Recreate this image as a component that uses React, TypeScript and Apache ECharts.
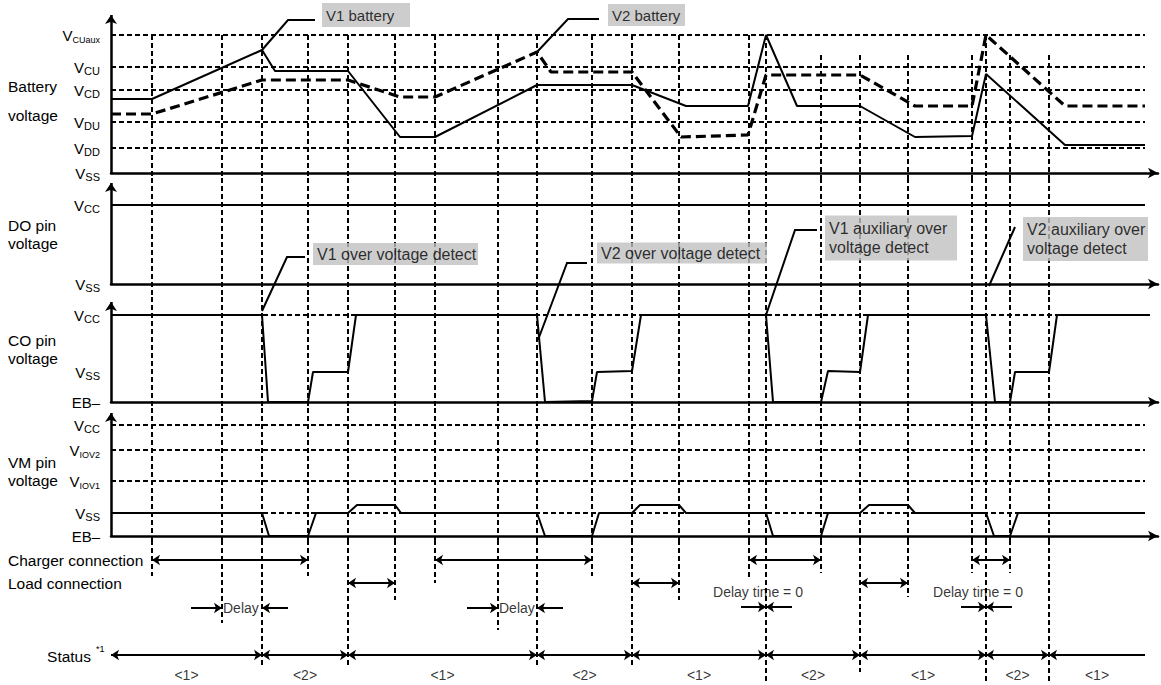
import React, { useEffect, useRef } from "react";
import * as echarts from "echarts";

// ---------- DATA ----------
// time axis in arbitrary time units (0 = vertical axes)
const T_END = 1034;
const X_MAX = 1047;

// event times (vertical dashed guide lines)
const guideTimes = [41, 111, 151, 197, 237, 284, 324, 387, 426, 481, 521, 568, 638, 655, 710, 749, 797, 861, 875, 899, 938];
// battery level where each guide starts
const guideTopLevels = [138, 138, 138, 138, 138, 138, 138, 138, 138, 138, 138, 138, 138, 138, 118, 118, 118, 118, 138, 118, 118];
// row (annotation area) where each guide stops
const guideBottomRows = [36, 83, 128, 36, 128, 60, 43, 90, 128, 36, 128, 60, 38, 141, 33, 132, 57, 33, 141, 33, 141];

// battery voltage panel
const batteryLevelNames = ["VSS", "VDD", "VDU", "VCD", "VCU", "VCUaux"];
const batteryLevelValues = [0, 25, 51, 83, 106, 138];
const v1Times = [0, 41, 151, 164, 237, 289, 324, 426, 521, 575, 637, 655, 686, 749, 804, 861, 875, 954, 1034];
const v1Values = [74, 74, 123, 102, 102, 36, 36, 88, 88, 67, 67, 138, 67, 67, 36, 37, 99, 28, 28];
const v2Times = [0, 41, 151, 237, 289, 324, 426, 440, 521, 570, 637, 655, 749, 804, 861, 875, 954, 1034];
const v2Values = [59, 59, 93, 93, 76, 76, 121, 101, 101, 36, 38, 98, 98, 67, 67, 138, 67, 67];

// DO pin panel
const doLevelNames = ["VSS", "VCC"];
const doLevelValues = [0, 79];
const doTimes = [0, 1034];
const doValues = [79, 79];

// CO pin panel
const coLevelNames = ["EB–", "VSS", "VCC"];
const coLevelValues = [0, 30, 87];
const coTimes = [0, 151, 157, 197, 202, 237, 245, 426, 434, 481, 486, 521, 530, 655, 662, 710, 717, 749, 757, 875, 884, 899, 904, 938, 946, 1039];
const coValues = [87, 87, 0, 0, 30, 30, 87, 87, 0, 1, 30, 31, 87, 87, 0, 0, 31, 30, 87, 87, 0, 0, 30, 30, 87, 87];

// VM pin panel
const vmLevelNames = ["EB–", "VSS", "VIOV1", "VIOV2", "VCC"];
const vmLevelValues = [0, 23, 55, 86, 111];
const vmTimes = [0, 151, 158, 197, 205, 237, 246, 284, 290, 426, 434, 481, 488, 521, 529, 568, 575, 655, 662, 710, 717, 749, 758, 797, 804, 875, 883, 899, 907, 1034];
const vmValues = [23, 23, 0, 0, 23, 23, 31, 31, 23, 23, 0, 0, 23, 23, 31, 31, 23, 23, 0, 0, 23, 23, 31, 31, 23, 23, 0, 0, 23, 23];

// annotation rows
const chargerStart = [41, 324, 638, 861];
const chargerEnd = [197, 481, 710, 899];
const loadStart = [237, 521, 749];
const loadEnd = [284, 568, 797];
const delayStartTimes = [111, 387];
const delayEndTimes = [151, 426];
const zeroDelayTimes = [655, 875];
const statusBounds = [0, 151, 237, 426, 521, 655, 749, 875, 938, 1034];
const statusLabels = ["<1>", "<2>", "<1>", "<2>", "<1>", "<2>", "<1>", "<2>", "<1>"];

// callouts
const calloutTexts = [
  "V1 battery",
  "V2 battery",
  "V1 over voltage detect",
  "V2 over voltage detect",
  "V1 auxiliary over\nvoltage detect",
  "V2 auxiliary over\nvoltage detect",
];

// ---------- LAYOUT ----------
const FONT = '"Liberation Sans", Arial, Helvetica, sans-serif';
const BLACK = "#000";
const GRID_LEFT = 111;
const gridTops = [15, 178, 297, 408, 540];
const gridHeights = [163, 119, 111, 132, 145];
const yMins = [-5, -13, -6, -4, 0];
const yMaxs = [158, 106, 105, 128, 145];
const arrowTops = [158, 101, 100, 123];
const ROW = { charger: 20, load: 43, delay: 68, zeroDelayArrow: 67, zeroDelayText: 52, status: 115, statusText: 135 };

const calloutGrid = [0, 0, 2, 2, 2, 2];
const calloutAnchor = [[211, 158], [497, 158], [202, 148], [486, 149], [714, 164], [912, 163]];
const calloutBox = [[88, 24, 15], [77, 22, 15], [165, 22, 16], [170, 21, 16], [132, 45, 16], [125, 44, 16]];
const calloutLeaders = [
  [[204, 153], [177, 153], [151, 123]],
  [[488, 154], [457, 154], [426, 121]],
  [[194, 145], [176, 145], [151, 91]],
  [[476, 139], [456, 139], [427, 62]],
  [[706, 172], [684, 172], [655, 87]],
  [[904, 175], [878, 116]],
];

const levelNames = [batteryLevelNames, doLevelNames, coLevelNames, vmLevelNames];
const levelValues = [batteryLevelValues, doLevelValues, coLevelValues, vmLevelValues];

function levelLabel(name: string) {
  if (name.startsWith("EB")) return "{v|" + name + "}";
  const sub = name.slice(1);
  return "{v|V}{" + (sub.length > 2 ? "t" : "s") + "|" + sub + "}";
}

const zip = (a: number[], b: number[]) => a.map((t, i) => [t, b[i]]);

function buildOption(): any {
  const grid = gridTops.map((top, i) => ({ left: GRID_LEFT, width: X_MAX, top, height: gridHeights[i] }));
  const xAxis = gridTops.map((_, i) => ({
    type: "value",
    gridIndex: i,
    min: 0,
    max: X_MAX,
    axisLine:
      i < 4
        ? { show: true, onZero: true, symbol: ["none", "arrow"], symbolSize: [8, 10], lineStyle: { color: BLACK, width: 2.5 } }
        : { show: false },
    axisTick: { show: false },
    axisLabel: { show: false },
    splitLine: { show: false },
  }));
  const yAxis = gridTops.map((_, i) => ({
    type: "value",
    gridIndex: i,
    min: yMins[i],
    max: yMaxs[i],
    inverse: i === 4,
    axisLine: { show: false },
    axisTick: { show: false },
    splitLine: { show: false },
    axisLabel:
      i < 4
        ? {
            show: true,
            customValues: levelValues[i],
            margin: 11,
            formatter: (val: number) => {
              const k = levelValues[i].indexOf(val);
              return k >= 0 ? levelLabel(levelNames[i][k]) : "";
            },
            rich: {
              v: { fontSize: 15, fontFamily: FONT, color: BLACK, lineHeight: 19, verticalAlign: "middle" },
              s: { fontSize: 11, fontFamily: FONT, color: BLACK, lineHeight: 11, verticalAlign: "bottom" },
              t: { fontSize: 9, fontFamily: FONT, color: BLACK, lineHeight: 10, verticalAlign: "bottom" },
            },
          }
        : { show: false },
  }));

  const series: any[] = [];
  const dashed = { color: BLACK, width: 2, type: [5, 3] };

  // vertical axis lines with arrows
  for (let i = 0; i < 4; i++) {
    series.push({
      type: "lines", coordinateSystem: "cartesian2d", xAxisIndex: i, yAxisIndex: i, clip: false, silent: true, z: 4,
      symbol: ["none", "arrow"], symbolSize: 9,
      lineStyle: { color: BLACK, width: 2.5, opacity: 1 },
      data: [{ coords: [[0, 0], [0, arrowTops[i]]] }],
    });
  }

  // horizontal dashed level lines
  const dashedLevels = [
    batteryLevelValues.slice(1).map((v) => [0, T_END, v]),
    [],
    [[0, 1039, coLevelValues[2]]],
    vmLevelValues.slice(1).map((v) => [0, T_END, v]),
  ];
  dashedLevels.forEach((arr, i) => {
    if (!arr.length) return;
    series.push({
      type: "lines", coordinateSystem: "cartesian2d", xAxisIndex: i, yAxisIndex: i, clip: false, silent: true, z: 1,
      symbol: "none", lineStyle: { ...dashed, opacity: 1 },
      data: arr.map(([a, b, v]) => ({ coords: [[a, v], [b, v]] })),
    });
  });

  // vertical dashed guides through all panels
  for (let g = 0; g < 5; g++) {
    series.push({
      type: "lines", coordinateSystem: "cartesian2d", xAxisIndex: g, yAxisIndex: g, clip: false, silent: true, z: 1,
      symbol: "none", lineStyle: { ...dashed, opacity: 1 },
      data: guideTimes.map((t, k) => {
        let y1 = yMaxs[g], y2 = yMins[g];
        if (g === 0) y1 = guideTopLevels[k];
        if (g === 4) { y1 = 0; y2 = guideBottomRows[k]; }
        return { coords: [[t, y1], [t, y2]] };
      }),
    });
  }

  // signals
  const sig = (name: string, gi: number, data: number[][], lineStyle: any) => ({
    name, type: "line", xAxisIndex: gi, yAxisIndex: gi, data, symbol: "none", silent: true, z: 5,
    lineStyle, emphasis: { disabled: true },
  });
  series.push(sig("V2 battery", 0, zip(v2Times, v2Values), { color: BLACK, width: 3.2, type: [10, 5] }));
  series.push(sig("V1 battery", 0, zip(v1Times, v1Values), { color: BLACK, width: 2 }));
  series.push(sig("DO pin", 1, zip(doTimes, doValues), { color: BLACK, width: 2 }));
  series.push(sig("CO pin", 2, zip(coTimes, coValues), { color: BLACK, width: 2 }));
  series.push(sig("VM pin", 3, zip(vmTimes, vmValues), { color: BLACK, width: 2 }));

  // annotation arrows
  const arrowSeries = (data: any[], symbol: any) => ({
    type: "lines", coordinateSystem: "cartesian2d", xAxisIndex: 4, yAxisIndex: 4, clip: false, silent: true, z: 5,
    symbol, symbolSize: 8, lineStyle: { color: BLACK, width: 2, opacity: 1 }, data,
  });
  series.push(arrowSeries(chargerStart.map((a, i) => ({ coords: [[a, ROW.charger], [chargerEnd[i], ROW.charger]] })), ["arrow", "arrow"]));
  series.push(arrowSeries(loadStart.map((a, i) => ({ coords: [[a, ROW.load], [loadEnd[i], ROW.load]] })), ["arrow", "arrow"]));
  const nStat = statusBounds.length - 1;
  series.push(arrowSeries(
    statusBounds.slice(0, nStat - 1).map((a, i) => ({ coords: [[a, ROW.status], [statusBounds[i + 1], ROW.status]] })),
    ["arrow", "arrow"]));
  series.push(arrowSeries(
    [{ coords: [[statusBounds[nStat - 1], ROW.status], [statusBounds[nStat], ROW.status]] }], ["arrow", "none"]));
  const stubs: any[] = [];
  delayStartTimes.forEach((t, i) => {
    stubs.push({ coords: [[t - 31, ROW.delay], [t, ROW.delay]] });
    stubs.push({ coords: [[delayEndTimes[i] + 26, ROW.delay], [delayEndTimes[i], ROW.delay]] });
  });
  zeroDelayTimes.forEach((t) => {
    stubs.push({ coords: [[t - 25, ROW.zeroDelayArrow], [t, ROW.zeroDelayArrow]] });
    stubs.push({ coords: [[t + 26, ROW.zeroDelayArrow], [t, ROW.zeroDelayArrow]] });
  });
  series.push(arrowSeries(stubs, ["none", "arrow"]));

  // annotation texts
  const textStyle = { color: BLACK, fontFamily: FONT, fontSize: 14 };
  series.push({
    type: "scatter", xAxisIndex: 4, yAxisIndex: 4, symbolSize: 0, clip: false, silent: true, z: 6,
    data: [
      ...delayStartTimes.map((t) => ({ value: [t, ROW.delay], label: { formatter: "Delay", position: "right", distance: 1 } })),
      ...zeroDelayTimes.map((t) => ({ value: [t, ROW.zeroDelayText], label: { formatter: "Delay time = 0", position: "inside", offset: [-8, 0] } })),
      ...statusLabels.map((s, i) => ({
        value: [(statusBounds[i] + statusBounds[i + 1]) / 2, ROW.statusText],
        label: { formatter: s, position: "inside" },
      })),
    ],
    label: { show: true, ...textStyle },
  });

  // callouts: leaders + boxes
  [0, 2].forEach((g) => {
    const idx = calloutTexts.map((_, i) => i).filter((i) => calloutGrid[i] === g);
    series.push({
      type: "lines", coordinateSystem: "cartesian2d", xAxisIndex: g, yAxisIndex: g, clip: false, silent: true, z: 7,
      polyline: true, symbol: ["none", "arrow"], symbolSize: 9,
      lineStyle: { color: BLACK, width: 2, opacity: 1 },
      data: idx.map((i) => ({ coords: calloutLeaders[i] })),
    });
    series.push({
      type: "scatter", xAxisIndex: g, yAxisIndex: g, symbolSize: 0, clip: false, silent: true, z: 8,
      data: idx.map((i) => {
        const [w, h, fs] = calloutBox[i];
        const lines = calloutTexts[i].split("\n").length;
        const lh = lines > 1 ? 19 : 18;
        const pv = (h - lh * lines) / 2;
        return {
          value: calloutAnchor[i],
          label: {
            show: true, formatter: calloutTexts[i], position: "right", distance: 0,
            backgroundColor: "#c0c0c0", color: BLACK, fontFamily: FONT, fontSize: fs, lineHeight: lh,
            width: w - 4, padding: [pv, 0, pv, 4], align: "left",
          },
        };
      }),
    });
  });

  // left-hand panel names
  const t = (text: string, x: number, y: number, extra: any = {}) => ({
    type: "text", x, y, silent: true,
    style: { text, fill: BLACK, fontFamily: FONT, fontSize: 15.5, verticalAlign: "middle", ...extra },
  });
  const graphic = [
    t("Battery", 8, 86), t("voltage", 8, 115),
    t("DO pin", 8, 225), t("voltage", 8, 243),
    t("CO pin", 8, 340), t("voltage", 8, 358),
    t("VM pin", 8, 462), t("voltage", 8, 480),
    t("Charger connection", 8, 560), t("Load connection", 8, 583),
    t("Status", 91, 656, { align: "right" }), t("*1", 96, 649, { fontSize: 9 }),
  ];

  return { animation: false, backgroundColor: "#fff", textStyle: { fontFamily: FONT }, grid, xAxis, yAxis, series, graphic };
}

export default function App() {
  const ref = useRef<HTMLDivElement>(null);
  useEffect(() => {
    if (!ref.current) return;
    const chart = echarts.init(ref.current, null, { renderer: "svg" });
    chart.setOption(buildOption());
    return () => chart.dispose();
  }, []);
  return <div ref={ref} style={{ position: "absolute", left: 0, top: 0, width: 1161, height: 685, background: "#fff" }} />;
}
